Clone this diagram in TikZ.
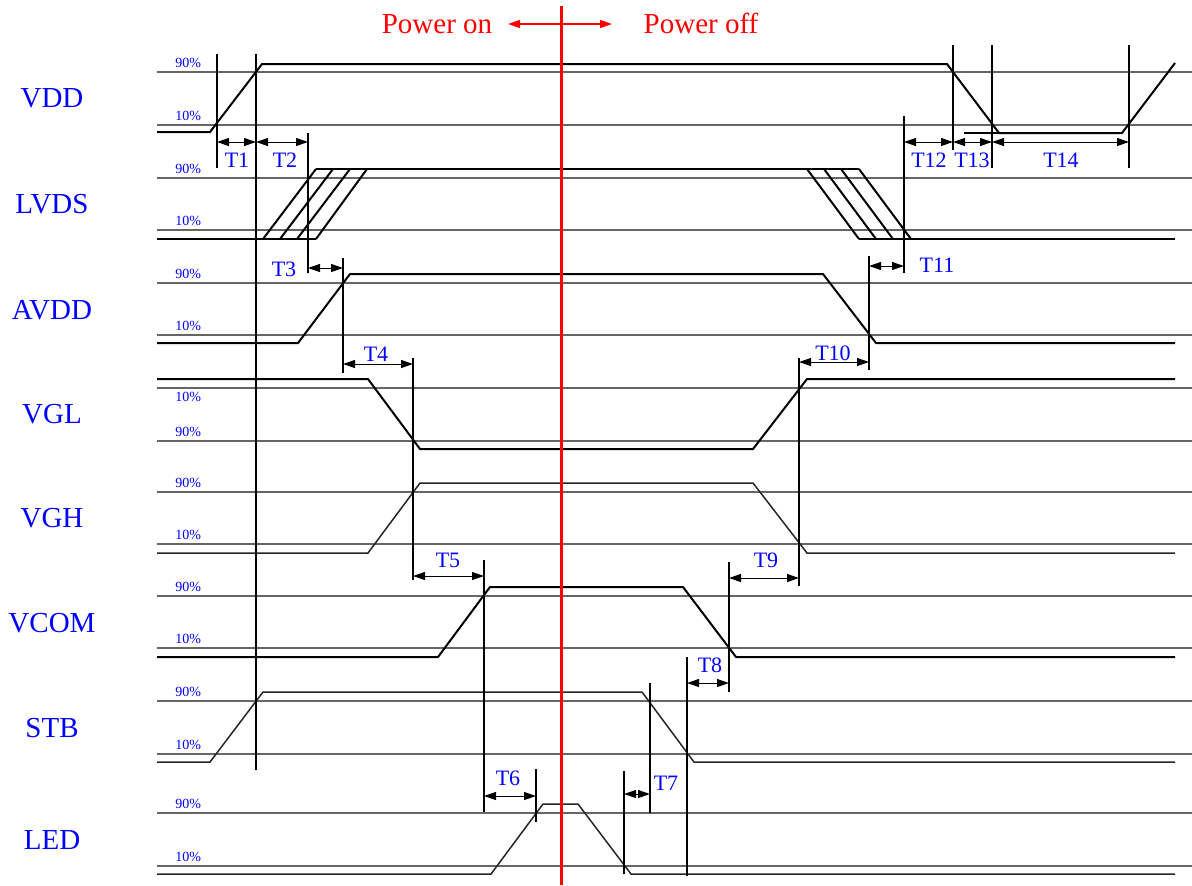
\documentclass[tikz,border=0pt]{standalone}
\usepackage{fontspec}
\setmainfont{Liberation Serif}
\usetikzlibrary{arrows.meta}
\begin{document}
\begin{tikzpicture}[x=0.5pt,y=-0.5pt,
  thr/.style={draw=black!60, line width=0.75pt},
  wave/.style={draw=black, line width=1pt, line join=miter},
  lightwave/.style={draw=black!85, line width=0.75pt, line join=miter},
  markline/.style={draw=black, line width=0.6pt},
  dim/.style={draw=black, line width=0.5pt, {Triangle[length=6pt,width=4pt]}-{Triangle[length=6pt,width=4pt]}},
  sig/.style={text=blue, font=\fontsize{14.5}{16}\selectfont, anchor=base, inner sep=0pt},
  tlab/.style={text=blue, font=\fontsize{11}{12}\selectfont, anchor=base, inner sep=0pt},
  pct/.style={text=blue, font=\fontsize{7}{8}\selectfont, anchor=base west, inner sep=0pt},
  pwr/.style={text=red, font=\fontsize{14.5}{16}\selectfont, anchor=base, inner sep=0pt},
]
\useasboundingbox (0,0) rectangle (1192,885);

% threshold lines
\foreach \yy in {72,125,178,230,283,335,388,441,492,544,596,648,701,754,813,866}
  \draw[thr] (157,\yy) -- (1192,\yy);

% percent labels
\foreach \n/\yy/\t in {a/67.5/90,b/120.5/10,c/173.5/90,d/225.5/10,e/278.5/90,f/330.5/10,
  g/401/10,h/436.5/90,i/487.5/90,j/539.5/10,k/591.5/90,l/643.5/10,m/696.5/90,n/749.5/10,
  o/808.5/90,p/861.5/10}
  \node[pct] (pct\n) at (175,\yy) {\t\%};

% signal names
\node[sig] (nVDD)  at (52,107) {VDD};
\node[sig] (nLVDS) at (52,213) {LVDS};
\node[sig] (nAVDD) at (52,319) {AVDD};
\node[sig] (nVGL)  at (52,423) {VGL};
\node[sig] (nVGH)  at (52,527) {VGH};
\node[sig] (nVCOM) at (52,632) {VCOM};
\node[sig] (nSTB)  at (52,737) {STB};
\node[sig] (nLED)  at (52,849) {LED};

% waveforms
\draw[wave] (157,132) -- (210,132) -- (262,64) -- (947,64) -- (999,133) -- (1122,133) -- (1175,63);
\draw[wave] (964,133) -- (999,133);
% LVDS
\draw[wave] (157,239) -- (316,239);
\draw[wave] (263,239) -- (316,169);
\draw[wave] (280,239) -- (333,169);
\draw[wave] (297,239) -- (350,169);
\draw[wave] (316,239) -- (367,169);
\draw[wave] (316,169) -- (859,169);
\draw[wave] (807,169) -- (859,239);
\draw[wave] (824,169) -- (876,239);
\draw[wave] (841,169) -- (893,239);
\draw[wave] (859,169) -- (911,239);
\draw[wave] (859,239) -- (1175,239);
% AVDD
\draw[wave] (157,343) -- (298,343) -- (350,274) -- (823,274) -- (876,343) -- (1175,343);
% VGL
\draw[wave] (157,379) -- (368,379) -- (420,449) -- (753,449) -- (807,379) -- (1175,379);
% VGH
\draw[lightwave] (157,553) -- (368,553) -- (420,483) -- (753,483) -- (807,553) -- (1175,553);
% VCOM
\draw[wave] (157,657) -- (438,657) -- (490,587) -- (683,587) -- (736,657) -- (1175,657);
% STB
\draw[lightwave] (157,762) -- (210,762) -- (263,692) -- (642,692) -- (694,762) -- (1175,762);
% LED
\draw[lightwave] (157,874) -- (491,874) -- (543,804) -- (578,804) -- (631,874) -- (1175,874);

% marker lines
\foreach \n/\xx/\ya/\yb in {1/217/54/168, 2/256/54/770, 3/308/133/273, 4/343/258/373,
  5/413/358/580, 6/484/560/812, 7/536/769/822, 8/624/771/874, 9/650/683/813,
  10/687/657/876, 11/729/562/692, 12/799/358/586, 13/869/256/370, 14/904/116/273,
  15/953/45/150, 16/992/45/168, 17/1129/45/168}
{
  \coordinate (mk\n t) at (\xx,\ya);
  \coordinate (mk\n b) at (\xx,\yb);
  \draw[markline] (mk\n t) -- (mk\n b);
}

% dimension arrows and labels
\foreach \n/\xa/\xb/\yy/\lx/\ly in {1/217/256/142/237/167, 2/256/308/142/285/167,
  3/308/343/268/284/276, 4/343/413/364/376/361, 5/413/484/576/448/567,
  6/484/536/796/508/785, 7/624/650/794/666/790, 8/687/729/683/710/672,
  9/729/799/578/766/567, 10/799/869/362/833/360, 11/869/904/266/937/272,
  12/904/953/142/929/167, 13/953/992/142/972/167, 14/992/1129/142/1061/167}
{
  \coordinate (d\n a) at (\xa,\yy);
  \coordinate (d\n b) at (\xb,\yy);
  \draw[dim] (d\n a) -- (d\n b);
  \node[tlab] (tl\n) at (\lx,\ly) {T\n};
}

% power on / off
\coordinate (redtop) at (561,6);
\coordinate (redbot) at (561,885);
\draw[red, line width=1.5pt] (redtop) -- (redbot);
\coordinate (pl) at (508,24);
\coordinate (pr) at (612,24);
\draw[red, line width=0.6pt, {Triangle[length=6pt,width=4pt]}-{Triangle[length=6pt,width=4pt]}] (pl) -- (pr);
\node[pwr] (pon)  at (437,33) {Power on};
\node[pwr] (poff) at (701,33) {Power off};
\end{tikzpicture}
\end{document}
